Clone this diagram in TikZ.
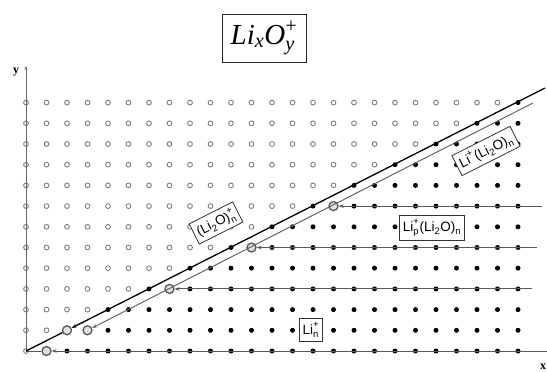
\documentclass[tikz,border=0pt]{standalone}
\usepackage{amsmath}
\usepackage{fontspec}
\setmainfont{Liberation Serif}
\setsansfont{Liberation Sans}
\usetikzlibrary{arrows.meta}
\begin{document}
\begin{tikzpicture}[x=1pt,y=-1pt,
 opendot/.style={circle,draw=black!50,line width=0.9pt,inner sep=0pt,minimum size=4.8pt},
 filldot/.style={circle,fill=black,inner sep=0pt,minimum size=5pt},
 bigdot/.style={circle,draw=black!65,line width=1.3pt,fill=black!12,inner sep=0pt,minimum size=9pt},
 hline/.style={draw=black!65,line width=0.9pt},
 tip/.style={-{Stealth[length=5pt,width=3.6pt]}},
 lbl/.style={draw=black!80,line width=0.8pt,fill=white,font=\sffamily\fontsize{13.5}{15}\selectfont,inner sep=3.5pt},
]
\useasboundingbox (0,0) rectangle (547,372);
\fill[white] (0,0) rectangle (547,372);
% grid of points
\foreach \i in {0,...,24}{
  \foreach \j in {0,...,12}{
    \pgfmathtruncatemacro\isopen{((\i==0)||(\i<2*\j))?1:0}
    \ifnum\isopen=1
      \node[opendot] (p-\i-\j) at ({26+20.5*\i},{351-20.7*\j}) {};
    \else
      \node[filldot] (p-\i-\j) at ({26+20.5*\i},{351-20.7*\j}) {};
    \fi
  }
}
% highlighted points
\foreach \i/\j in {1/0,2/1,3/1,7/3,11/5,15/7}{
  \node[bigdot] (b-\i-\j) at ({26+20.5*\i},{351-20.7*\j}) {};
}
% free ends
\coordinate (ytop) at (26,66);
\coordinate (e0) at (547,351);
\coordinate (e3) at (532,{351-20.7*3});
\coordinate (e5) at (537,{351-20.7*5});
\coordinate (e7) at (542,{351-20.7*7});
\coordinate (btop) at (545,88);
\coordinate (gtop) at (533,103);
% axes
\draw[draw=black!60,line width=0.9pt,-{Stealth[length=4pt,width=3pt]}] (p-0-0.center) -- (ytop);
\draw[hline] (b-1-0) -- (p-0-0.center);
% horizontal series
\draw[hline,tip] (e0) -- (b-1-0);
\draw[hline,tip] (e3) -- (b-7-3);
\draw[hline,tip] (e5) -- (b-11-5);
\draw[hline,tip] (e7) -- (b-15-7);
% diagonals
\draw[black,line width=1.3pt,tip] (btop) -- (b-2-1);
\draw[black,line width=1.3pt] (b-2-1) -- (p-0-0.center);
\draw[draw=black!60,line width=1pt,tip] (gtop) -- (b-3-1);
% axis labels
\node[font=\bfseries\fontsize{12}{12}\selectfont] (ylab) at (16,72) {y};
\node[font=\bfseries\fontsize{12}{12}\selectfont] (xlab) at (543,367) {x};
% title
\node[draw=black!85,line width=0.8pt,minimum width=84pt,minimum height=48pt,font=\fontsize{29}{31}\selectfont\itshape,inner sep=2pt] (title) at (264,38) {$\text{Li}_{\text{x}}\text{O}^{\text{\upshape +}}_{\text{y}}$};
% labels
\node[lbl,rotate=26.8] (l1) at (216,223) {$\text{(Li}_{\text{2}}\text{O)}^{\text{+}}_{\text{n}}$};
\node[lbl,rotate=26.8] (l2) at (486,151) {$\text{Li}^{\text{+}}\text{(Li}_{\text{2}}\text{O)}_{\text{n}}$};
\node[lbl] (l3) at (432,228) {$\text{Li}^{\text{+}}_{\text{p}}\text{(Li}_{\text{2}}\text{O)}_{\text{n}}$};
\node[lbl] (l4) at (311,330) {$\text{Li}^{\text{+}}_{\text{n}}$};
\end{tikzpicture}
\end{document}
